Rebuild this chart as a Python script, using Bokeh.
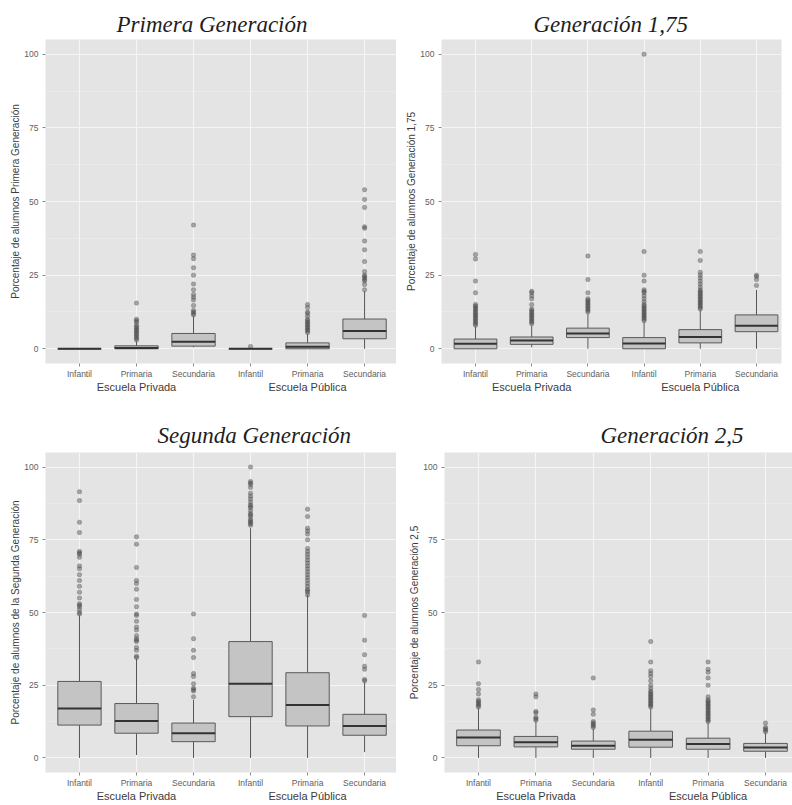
from bokeh.plotting import figure
from bokeh.models import Range1d, FixedTicker, LinearAxis, Title
from bokeh.layouts import row, column
from bokeh.embed import file_html
from bokeh.resources import INLINE

categories = ["Infantil", "Primaria", "Secundaria", "Infantil", "Primaria", "Secundaria"]
schools = ["Escuela Privada", "Escuela Pública"]
y_ticks = [0, 25, 50, 75, 100]
y_minor = [12.5, 37.5, 62.5, 87.5]

# ---- Primera Generación ----
p1_low = [0, 0, 0.5, 0, 0, 0]
p1_q1 = [0, 0, 0.9, 0, 0, 3.4]
p1_med = [0, 0.3, 2.4, 0, 0.7, 6.0]
p1_q3 = [0, 1.0, 5.2, 0, 2.0, 10.1]
p1_high = [0, 2.5, 11.0, 0, 5.0, 19.5]
p1_out = [
    [],
    [3, 3.5, 4, 4.5, 5, 5.5, 6, 6.5, 7, 7.5, 8, 9, 9.5, 10, 15.5],
    [11.5, 12, 12.5, 13, 14.7, 16.6, 17.5, 18.4, 20, 22, 25, 27.5, 30.6, 31.8, 42],
    [0.8],
    [5.5, 6, 6.5, 7, 7.5, 8, 8.5, 9, 9.5, 10, 11, 12, 12.5, 14, 15],
    [20, 21.8, 23, 23.5, 24, 24.5, 25, 26.2, 29.6, 33.6, 36.6, 40.9, 41.4, 48, 50.7, 54],
]

# ---- Generación 1,75 ----
p2_low = [0, 0.5, 0, 0, 0, 0]
p2_q1 = [0, 1.5, 3.8, 0, 2.0, 5.8]
p2_med = [1.7, 2.8, 5.2, 1.8, 4.0, 7.8]
p2_q3 = [3.3, 4.0, 7.0, 3.8, 6.5, 11.5]
p2_high = [7.5, 7.8, 11.8, 9.0, 13.0, 20.0]
p2_out = [
    [8, 8.5, 9, 9.5, 10, 10.5, 11, 11.5, 12, 12.5, 13, 13.5, 14, 14.5, 15, 19, 23, 30.5, 32],
    [8.5, 9, 9.5, 10, 10.5, 11, 11.5, 12, 12.5, 13, 13.5, 15, 17, 18, 19, 19.5],
    [12.5, 13, 13.5, 14, 14.5, 15, 15.5, 16, 16.5, 17, 19, 23.5, 31.5],
    [9.5, 10, 10.5, 11, 11.5, 12, 12.5, 13, 13.5, 14, 14.5, 15, 16, 17, 18, 19, 19.5, 20, 23, 25, 33, 100],
    [13.5, 14, 14.5, 15, 15.5, 16, 16.5, 17, 17.5, 18, 18.5, 19, 19.5, 20, 21, 22, 23, 24, 25, 26, 30, 33],
    [21.5, 23.5, 24.5, 25],
]

# ---- Segunda Generación ----
p3_low = [0, 1, 0, 0, 0, 2]
p3_q1 = [11.3, 8.5, 5.6, 14.2, 11.0, 7.8]
p3_med = [17.0, 12.7, 8.5, 25.5, 18.2, 11.0]
p3_q3 = [26.3, 18.7, 12.0, 40.0, 29.3, 15.0]
p3_high = [49, 34, 20, 79, 56, 26]
p3_out = [
    [49.5, 50, 51, 52, 52.5, 53, 55, 57, 59, 61, 63, 65, 66, 69, 70, 70.5, 71, 77.5, 81, 88.5, 91.5],
    [34.5, 35, 37, 38, 40, 40.5, 41, 42, 44, 45, 47, 49, 49.5, 52, 54.5, 58, 60, 61, 65.5, 73.5, 76],
    [21, 23, 23.5, 24, 25.5, 28, 29, 34.5, 37, 41, 49.5],
    [80, 80.5, 81, 81.5, 82, 83, 83.5, 84, 85, 86, 86.5, 87, 88, 89, 90, 91, 93, 94, 94.5, 95, 100],
    [56, 57, 57.5, 58, 59, 60, 61, 62, 63, 64, 65, 66, 67, 68, 69, 70, 71, 72, 75, 77, 78, 79, 83, 85.5],
    [26.5, 27, 30.5, 31.5, 35.5, 40.5, 49],
]

# ---- Generación 2,5 ----
p4_low = [0, 0, 0, 0, 0, 0]
p4_q1 = [4.2, 3.8, 3.0, 3.7, 3.0, 2.3]
p4_med = [7.0, 5.4, 4.2, 6.3, 4.8, 3.6]
p4_q3 = [9.6, 7.4, 5.8, 9.2, 6.8, 5.0]
p4_high = [17, 12.5, 10, 17, 12, 8.5]
p4_out = [
    [17.5, 18, 18.5, 19, 19.5, 20, 22, 23.5, 25.5, 33],
    [13, 13.5, 14, 15.5, 16, 21, 22],
    [10.5, 11, 11.5, 12, 12.5, 15, 16.5, 27.5],
    [17.5, 18, 18.5, 19, 19.5, 20, 20.5, 21, 21.5, 22, 22.5, 23, 24, 25, 26.5, 28, 29, 30, 33, 40],
    [12.5, 13, 13.5, 14, 14.5, 15, 15.5, 16, 16.5, 17, 17.5, 18, 18.5, 19, 19.5, 20, 21, 25, 27.5, 29.5, 30.5, 33],
    [9, 9.5, 10, 10.5, 12],
]

FONT = "Liberation Sans"
BOX_W = 0.76


def make_panel(title, ylabel, low, q1, med, q3, high, outs,
               w, h, bl, br, bt, bb, xr, title_offset, title_standoff):
    p = figure(width=w, height=h, x_range=Range1d(*xr), y_range=Range1d(-5, 105),
               output_backend="svg", toolbar_location=None,
               min_border_left=bl, min_border_right=br,
               min_border_top=bt, min_border_bottom=bb)
    p.background_fill_color = "#E4E4E4"
    p.border_fill_color = "white"
    p.outline_line_color = None

    xs = list(range(1, len(categories) + 1))

    # axes / grids
    xa = p.xaxis[0]
    xa.ticker = FixedTicker(ticks=xs)
    xa.major_label_overrides = {x: c for x, c in zip(xs, categories)}
    ya = p.yaxis[0]
    ya.ticker = FixedTicker(ticks=y_ticks, minor_ticks=y_minor)
    for ax in (xa, ya):
        ax.axis_line_color = None
        ax.major_tick_line_color = "#8A8A8A"
        ax.major_tick_out = 3
        ax.major_tick_in = 0
        ax.minor_tick_out = 0
        ax.minor_tick_in = 0
        ax.major_label_text_font = FONT
        ax.major_label_text_font_size = "8.5px"
        ax.major_label_text_color = "#5E5E5E"
    xa.major_label_standoff = 2
    ya.major_label_standoff = 4
    ya.axis_label = ylabel
    ya.axis_label_text_font = FONT
    ya.axis_label_text_font_size = "10px"
    ya.axis_label_text_font_style = "normal"
    ya.axis_label_text_color = "#3C3C3C"
    ya.axis_label_standoff = 0

    p.xgrid.grid_line_color = "#F5F5F5"
    p.xgrid.grid_line_width = 1.2
    p.ygrid.grid_line_color = "#F5F5F5"
    p.ygrid.grid_line_width = 1.2
    p.ygrid.minor_grid_line_color = "#EFEFEF"
    p.ygrid.minor_grid_line_width = 0.6

    # group axis (school type)
    n = len(categories) // len(schools)
    gpos = [sum(xs[i * n:(i + 1) * n]) / n for i in range(len(schools))]
    ga = LinearAxis(ticker=FixedTicker(ticks=gpos),
                    major_label_overrides={g: s for g, s in zip(gpos, schools)})
    ga.axis_line_color = None
    ga.major_tick_line_color = None
    ga.major_tick_out = 0
    ga.major_tick_in = 0
    ga.minor_tick_out = 0
    ga.minor_tick_in = 0
    ga.major_label_standoff = -1
    ga.major_label_text_font = FONT
    ga.major_label_text_font_size = "11px"
    ga.major_label_text_color = "#3C3C3C"
    p.add_layout(ga, "below")

    # outliers
    ox, oy = [], []
    for x, vals in zip(xs, outs):
        ox += [x] * len(vals)
        oy += vals
    p.scatter(ox, oy, size=4.5, fill_color="#4A4A4A", fill_alpha=0.45,
              line_color="#4A4A4A", line_alpha=0.25)

    # whiskers
    p.segment(x0=xs, y0=q3, x1=xs, y1=high, line_color="#555555", line_width=1)
    p.segment(x0=xs, y0=q1, x1=xs, y1=low, line_color="#555555", line_width=1)
    # boxes
    p.vbar(x=xs, width=BOX_W, bottom=q1, top=q3, fill_color="#C4C4C4",
           line_color="#5A5A5A", line_width=1)
    # medians
    p.segment(x0=[x - BOX_W / 2 for x in xs], y0=med,
              x1=[x + BOX_W / 2 for x in xs], y1=med,
              line_color="#333333", line_width=2)

    p.add_layout(Title(text=title, text_font="Liberation Serif",
                       text_font_style="italic", text_font_size="23px",
                       text_color="#1E1E1E", align="left", offset=title_offset,
                       vertical_align="top", standoff=title_standoff), "above")
    return p


f1 = make_panel("Primera Generación", "Porcentaje de alumnos Primera Generación",
                p1_low, p1_q1, p1_med, p1_q3, p1_high, p1_out,
                396, 400, 45, 0, 37, 37, (0.404, 6.56), 71, 2)
f2 = make_panel("Generación 1,75", "Porcentaje de alumnos Generación 1,75",
                p2_low, p2_q1, p2_med, p2_q3, p2_high, p2_out,
                396, 400, 45, 11, 39, 36, (0.395, 6.445), 92, 2)
f3 = make_panel("Segunda Generación", "Porcentaje de alumnos de la Segunda Generación",
                p3_low, p3_q1, p3_med, p3_q3, p3_high, p3_out,
                396, 404, 45, 0, 52, 32, (0.404, 6.56), 112, 6)
f4 = make_panel("Generación 2,5", "Porcentaje de alumnos Generación 2,5",
                p4_low, p4_q1, p4_med, p4_q3, p4_high, p4_out,
                396, 404, 48, 0, 52, 32, (0.408, 6.47), 156, 6)

layout = column(row(f1, f2), row(f3, f4))
open("out.html", "w").write(file_html(layout, INLINE))
